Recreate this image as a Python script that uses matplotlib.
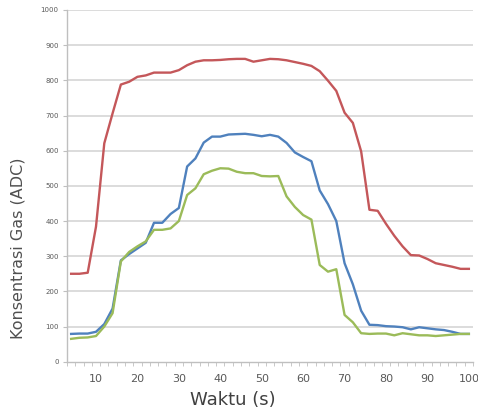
import matplotlib
matplotlib.use("Agg")
import matplotlib.pyplot as plt
import numpy as np

# Data (time in seconds, ADC values)
waktu = list(range(4, 101, 2))

sensor_merah = [250, 250, 253, 384, 621, 706, 788, 796, 810, 814,
                822, 822, 822, 829, 843, 853, 857, 857, 858, 860,
                861, 861, 853, 857, 861, 860, 857, 852, 847, 841,
                826, 799, 770, 708, 679, 598, 432, 429, 392, 358,
                328, 303, 302, 292, 280, 275, 270, 264, 264]

sensor_biru = [79, 80, 80, 85, 107, 151, 288, 306, 322, 338,
               395, 395, 420, 437, 555, 578, 623, 640, 640, 646,
               647, 648, 645, 641, 645, 640, 622, 595, 582, 570,
               487, 448, 400, 280, 220, 145, 105, 104, 101, 100,
               98, 92, 98, 95, 92, 90, 85, 79, 79]

sensor_hijau = [65, 68, 69, 73, 100, 138, 285, 312, 328, 342,
                375, 375, 379, 400, 474, 493, 533, 543, 550, 549,
                540, 536, 536, 528, 527, 528, 470, 440, 417, 404,
                275, 256, 263, 133, 112, 81, 79, 80, 80, 75,
                81, 78, 75, 75, 73, 75, 77, 79, 79]

y_ticks = list(range(0, 1001, 100))
x_ticks = list(range(10, 101, 10))

W, H = 478, 419
fig = plt.figure(figsize=(W / 100, H / 100), dpi=100)
ax = fig.add_axes([67 / W, 1 - 361.7 / H, (473 - 67) / W, (361.7 - 10) / H])

grid_c = "#D9D9D9"
for v in y_ticks[1:]:
    ax.axhline(v, color=grid_c, lw=1.3, zorder=0)

ax.plot(waktu, sensor_merah, color="#C4575A", lw=1.7, zorder=3, solid_joinstyle="round")
ax.plot(waktu, sensor_biru, color="#4F81BD", lw=1.7, zorder=3, solid_joinstyle="round")
ax.plot(waktu, sensor_hijau, color="#9BBB59", lw=1.7, zorder=4, solid_joinstyle="round")

ax.set_xlim(3, 101)
ax.set_ylim(0, 1000)

for s in ["top", "right"]:
    ax.spines[s].set_visible(False)
for s in ["left", "bottom"]:
    ax.spines[s].set_color("#BFBFBF")
    ax.spines[s].set_linewidth(1.0)

ax.set_yticks(y_ticks)
ax.set_yticklabels([str(v) for v in y_ticks])
ax.tick_params(axis="y", length=3, color="#BFBFBF", labelsize=5, labelcolor="#595959", pad=3)

ax.set_xticks(x_ticks)
ax.set_xticklabels([str(v) for v in x_ticks])
ax.set_xticks(np.arange(3, 102, 2), minor=True)
ax.tick_params(axis="x", which="major", length=0, labelsize=8, labelcolor="#595959", pad=9)
ax.tick_params(axis="x", which="minor", length=3, color="#BFBFBF")

fig.text(233 / W, 1 - 400 / H, "Waktu (s)", ha="center", va="center",
         fontsize=13, color="#404040")
fig.text(18 / W, 1 - 248 / H, "Konsentrasi Gas (ADC)", ha="center", va="center",
         rotation=90, fontsize=11.5, color="#505050")

fig.savefig("out.png", dpi=100)
